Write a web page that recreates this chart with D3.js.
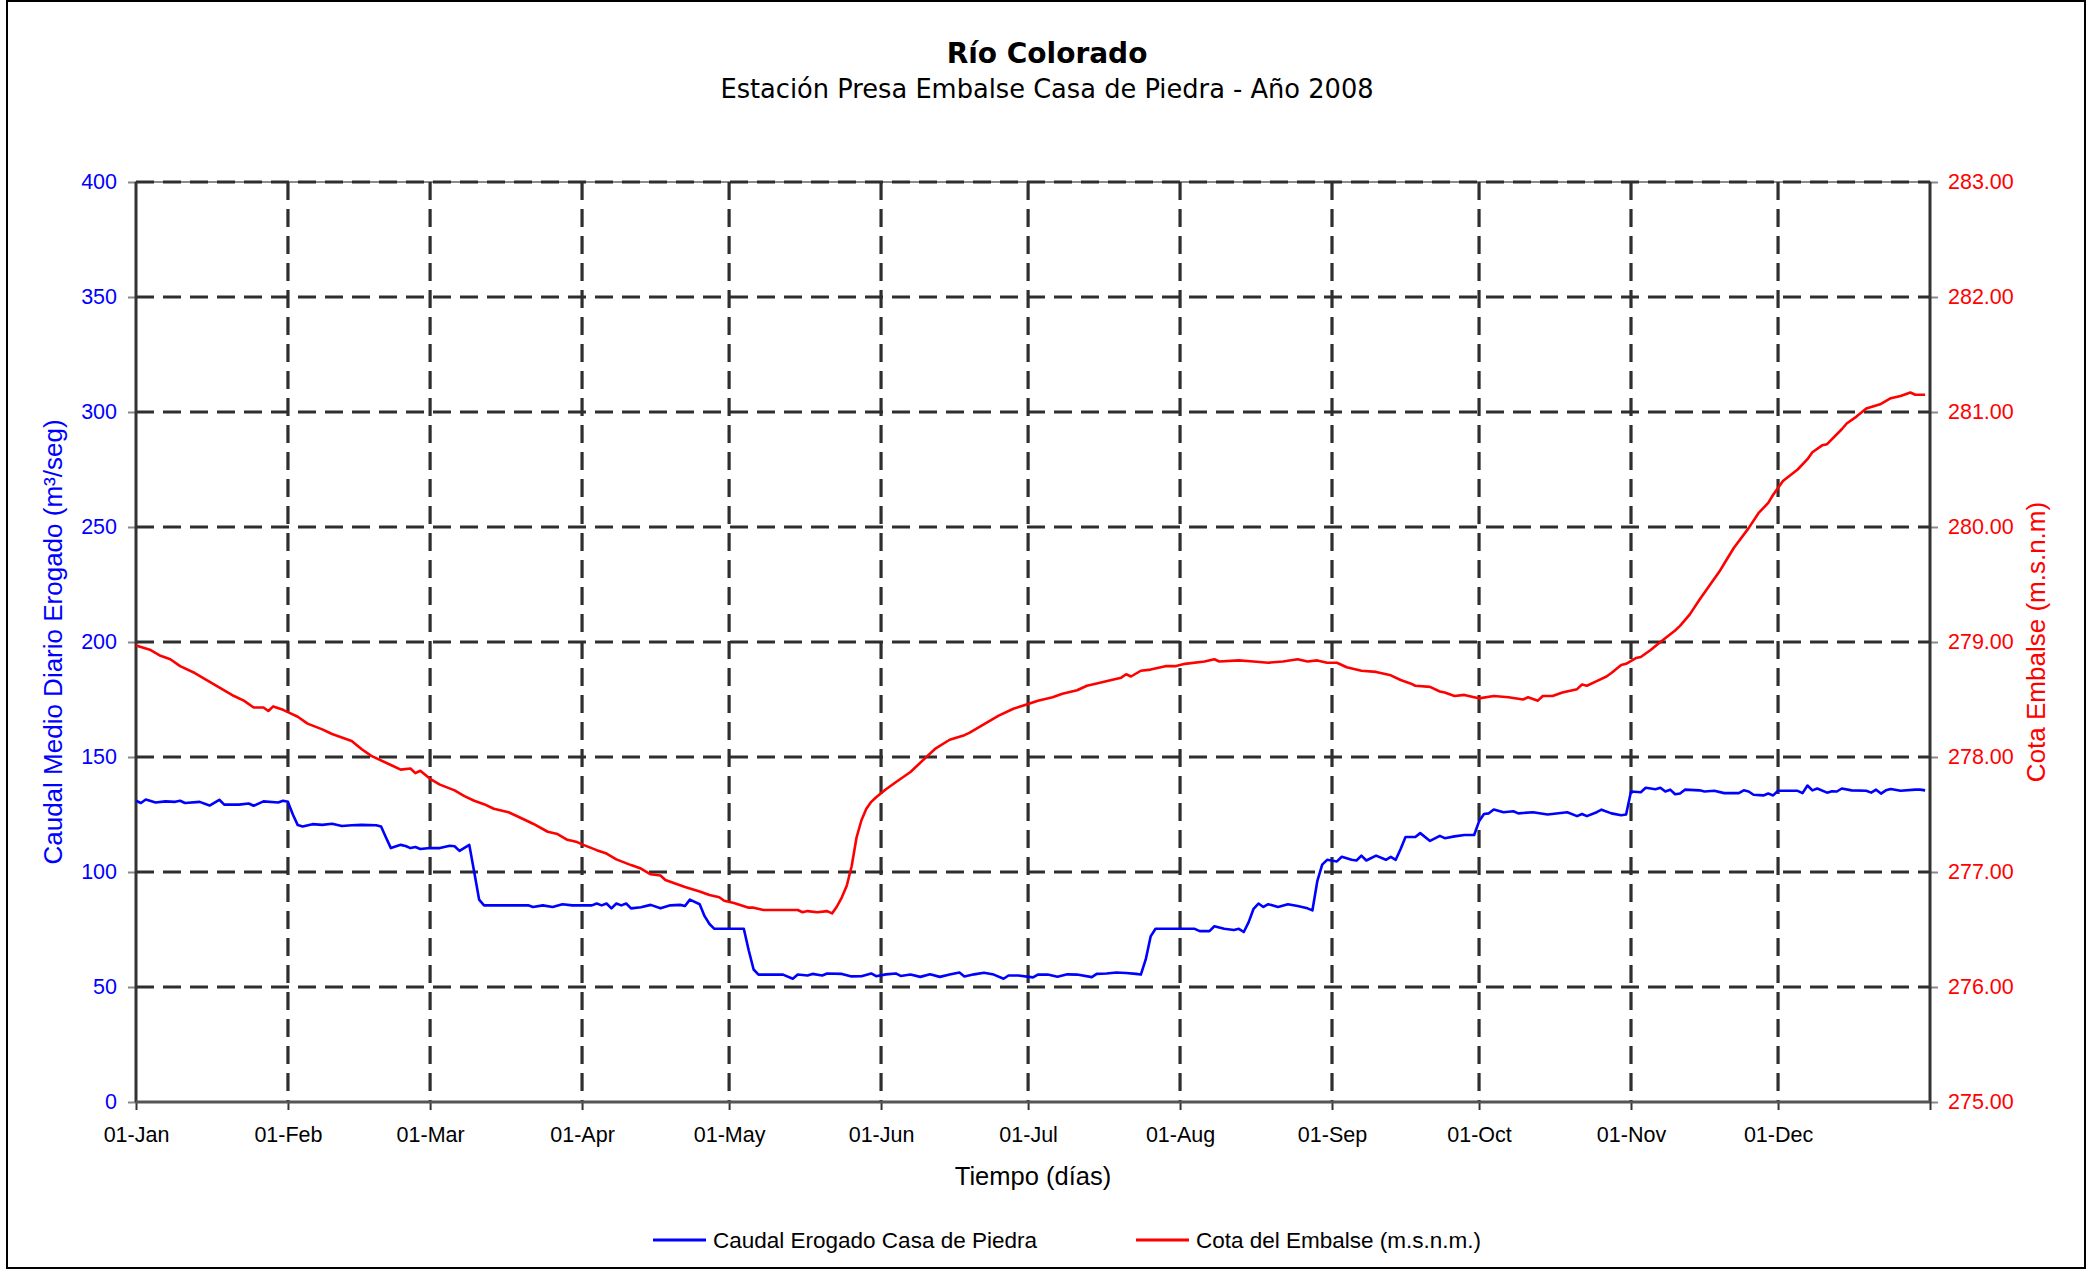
<!DOCTYPE html>
<html>
<head>
<meta charset="utf-8">
<script src="https://cdn.jsdelivr.net/npm/d3@7"></script>
<style>
  html, body { margin: 0; padding: 0; background: #fff; }
  svg { display: block; }
</style>
</head>
<body>
<svg id="chart" width="2089" height="1271"></svg>
<script>
// ---------------- DATA ----------------
const chartTitle = "Río Colorado";
const chartSubtitle = "Estación Presa Embalse Casa de Piedra - Año 2008";
const yLeftTitle = "Caudal Medio Diario Erogado (m³/seg)";
const yRightTitle = "Cota Embalse (m.s.n.m)";
const xTitle = "Tiempo (días)";
const seriesNames = ["Caudal Erogado Casa de Piedra", "Cota del Embalse (m.s.n.m.)"];
const yearStart = [2008, 0, 1];
const leftTicks = [0, 50, 100, 150, 200, 250, 300, 350, 400];
const rightTicks = [275, 276, 277, 278, 279, 280, 281, 282, 283];
const monthStarts = [0, 1, 2, 3, 4, 5, 6, 7, 8, 9, 10, 11];

// [day of year (0 = 01-Jan), caudal m3/s]
const caudal = [
 [0,131],[1,130],[2,131.5],[4,130.2],[6,130.7],[8,130.5],[9,131],[10,130],[13,130.5],[15,128.9],
 [17,131.4],[18,129.3],[21,129.3],[23,129.8],[24,128.8],[26,130.7],[29,130.2],[30,131],[31,130.5],
 [32,125],[33,120.4],[34,119.8],[36,120.8],[38,120.5],[40,121],[42,120],[44,120.3],[46,120.5],
 [49,120.3],[50,119.8],[51,115],[52,110.4],[54,111.8],[55,111.3],[56,110.4],[57,110.9],[58,110],
 [60,110.4],[62,110.4],[64,111.4],[65,111.2],[66,109.2],[68,111.8],[69,100],[70,88],[71,85.5],
 [74,85.5],[77,85.5],[80,85.5],[81,84.8],[83,85.5],[85,84.8],[87,86],[89,85.5],[91,85.5],[93,85.5],
 [94,86.3],[95,85.5],[96,86.3],[97,84.2],[98,86.3],[99,85.5],[100,86.3],[101,84.2],[103,84.7],
 [105,85.7],[107,84.2],[109,85.5],[111,85.7],[112,85.2],[113,88],[115,86],[116,80.8],[117,77.4],
 [118,75.3],[121,75.3],[124,75.3],[125,66],[126,57.6],[127,55.4],[130,55.4],[132,55.4],[134,53.6],
 [135,55.4],[137,55],[138,55.7],[140,55],[141,55.9],[144,55.7],[146,54.6],[148,54.7],[150,55.9],
 [151,54.7],[153,55.5],[155,55.9],[156,54.8],[158,55.4],[160,54.4],[162,55.5],[164,54.4],[166,55.4],
 [168,56.3],[169,54.6],[171,55.5],[173,56.2],[175,55.4],[177,53.6],[178,55],[180,55],[183,54.2],
 [184,55.4],[186,55.4],[188,54.5],[190,55.5],[192,55.4],[195,54.3],[196,55.7],[198,55.9],[200,56.3],
 [202,56.1],[204,55.7],[205,55.4],[206,62],[207,72],[208,75.3],[211,75.3],[214,75.3],[216,75.3],
 [217,74.3],[219,74.3],[220,76.4],[222,75.3],[224,74.8],[225,75.3],[226,73.9],[227,78.2],[228,84],
 [229,86.3],[230,84.8],[231,86],[233,84.8],[235,86],[237,85.2],[239,84.2],[240,83.3],[241,96],
 [242,103.2],[243,105.3],[245,104.6],[246,106.6],[248,105.3],[249,105],[250,107.1],[251,105],
 [253,107.1],[255,105.3],[256,106.6],[257,105.3],[258,110],[259,115.2],[261,115.2],[262,116.9],
 [264,113.5],[266,115.7],[267,114.7],[269,115.5],[271,116.1],[273,116.1],[274,122],[275,125.2],
 [276,125.5],[277,127.2],[279,126],[281,126.4],[282,125.5],[285,126],[288,125],[292,126],[294,124.3],
 [295,125.2],[296,124.3],[298,126],[299,127.1],[301,125.5],[303,124.7],[304,125],[305,135],
 [307,134.7],[308,136.6],[310,136],[311,136.6],[312,135],[313,135.8],[314,133.8],[315,134.1],
 [316,135.8],[319,135.5],[320,135],[322,135.3],[324,134.3],[327,134.3],[328,135.5],[329,135],
 [330,133.6],[332,133.3],[333,134.1],[334,133.3],[335,135.3],[339,135.3],[340,134.3],[341,137.6],
 [342,135.5],[343,136.3],[345,134.5],[346,135.1],[347,135],[348,136.3],[350,135.5],[353,135.3],
 [354,134.5],[355,135.8],[356,134.1],[357,135.5],[358,136.1],[360,135.3],[363,135.8],[364,135.8],
 [365,135.5]
];

// [day of year, cota m.s.n.m.]
const cota = [
 [0,278.97],[3,278.93],[5,278.88],[7,278.85],[9,278.79],[12,278.73],[14,278.68],[16,278.63],
 [18,278.58],[20,278.53],[22,278.49],[24,278.43],[26,278.43],[27,278.40],[28,278.44],[30,278.41],
 [31,278.39],[33,278.35],[35,278.29],[38,278.24],[40,278.20],[44,278.14],[46,278.07],[48,278.01],
 [52,277.93],[54,277.89],[56,277.90],[57,277.86],[58,277.88],[60,277.81],[62,277.76],[65,277.71],
 [67,277.66],[69,277.62],[71,277.59],[73,277.55],[76,277.52],[78,277.48],[81,277.42],[84,277.35],
 [86,277.33],[88,277.28],[90,277.26],[91,277.24],[94,277.19],[96,277.16],[98,277.11],[101,277.06],
 [103,277.03],[105,276.98],[107,276.97],[108,276.93],[110,276.90],[112,276.87],[115,276.83],
 [117,276.80],[119,276.78],[120,276.75],[122,276.73],[125,276.69],[126,276.69],[128,276.67],
 [135,276.67],[136,276.65],[137,276.66],[139,276.65],[141,276.66],[142,276.64],[143,276.70],
 [144,276.78],[145,276.88],[146,277.05],[147,277.30],[148,277.45],[149,277.55],[150,277.61],
 [151,277.65],[153,277.72],[155,277.78],[158,277.87],[161,277.99],[163,278.07],[166,278.15],
 [169,278.19],[170,278.21],[172,278.26],[174,278.31],[176,278.36],[179,278.42],[182,278.46],
 [184,278.49],[187,278.52],[189,278.55],[192,278.58],[194,278.62],[196,278.64],[199,278.67],
 [201,278.69],[202,278.72],[203,278.70],[205,278.75],[207,278.76],[210,278.79],[212,278.79],
 [214,278.81],[218,278.83],[220,278.85],[221,278.83],[225,278.84],[228,278.83],[231,278.82],
 [234,278.83],[237,278.85],[239,278.83],[241,278.84],[243,278.82],[245,278.82],[247,278.78],
 [250,278.75],[253,278.74],[256,278.71],[258,278.67],[260,278.64],[261,278.62],[264,278.61],
 [266,278.57],[267,278.56],[269,278.53],[271,278.54],[273,278.52],[274,278.51],[277,278.53],
 [280,278.52],[283,278.50],[284,278.52],[286,278.49],[287,278.53],[289,278.53],[291,278.56],
 [294,278.59],[295,278.63],[296,278.62],[298,278.66],[300,278.70],[301,278.73],[303,278.80],
 [304,278.81],[306,278.86],[307,278.87],[309,278.93],[311,279.00],[314,279.10],[315,279.14],
 [317,279.24],[319,279.37],[323,279.61],[324,279.68],[326,279.82],[329,279.99],[331,280.12],
 [333,280.21],[334,280.28],[336,280.40],[339,280.50],[341,280.59],[342,280.65],[344,280.71],
 [345,280.72],[348,280.85],[349,280.90],[351,280.96],[353,281.03],[356,281.07],[358,281.12],
 [360,281.14],[362,281.17],[363,281.15],[365,281.15]
];

// ---------------- CHART ----------------
const svg = d3.select("#chart");
const W = 2089, H = 1271;
const plot = { left: 136, right: 1930, top: 182, bottom: 1102 };
const t0 = new Date(yearStart[0], yearStart[1], yearStart[2]);
const dayToDate = d => d3.timeDay.offset(t0, d);

const x = d3.scaleTime().domain([t0, new Date(yearStart[0] + 1, 0, 1)]).range([plot.left, plot.right]);
const yL = d3.scaleLinear().domain([0, 400]).range([plot.bottom, plot.top]);
const yR = d3.scaleLinear().domain([275, 283]).range([plot.bottom, plot.top]);
const months = monthStarts.map(m => new Date(yearStart[0], m, 1));

const sans = "'Liberation Sans', Arial, sans-serif";
const titleFont = "'DejaVu Sans', 'Noto Sans', sans-serif";

svg.append("rect").attr("width", W).attr("height", H).attr("fill", "#fff");
svg.append("rect").attr("x", 7).attr("y", 1).attr("width", 2078).attr("height", 1267)
  .attr("fill", "none").attr("stroke", "#000").attr("stroke-width", 2);

// Titles
svg.append("text").attr("x", 1047).attr("y", 63).attr("text-anchor", "middle")
  .attr("font-family", titleFont).attr("font-weight", "bold").attr("font-size", 28)
  .attr("fill", "#000").text(chartTitle);
svg.append("text").attr("x", 1047).attr("y", 98).attr("text-anchor", "middle")
  .attr("font-family", titleFont).attr("font-size", 25.7)
  .attr("fill", "#000").text(chartSubtitle);

// Plot border (gray)
svg.append("rect").attr("x", plot.left).attr("y", plot.top)
  .attr("width", plot.right - plot.left).attr("height", plot.bottom - plot.top)
  .attr("fill", "none").attr("stroke", "#8c8c8c").attr("stroke-width", 2);

// Grid
const grid = svg.append("g").attr("stroke", "#2e2e2e").attr("stroke-width", 3.2).attr("stroke-dasharray", "18,9");
grid.selectAll("line.h").data(leftTicks.filter(v => v > 0)).join("line")
  .attr("x1", plot.left).attr("x2", plot.right)
  .attr("y1", d => yL(d)).attr("y2", d => yL(d));
grid.selectAll("line.v").data(months.slice(1)).join("line")
  .attr("x1", d => x(d)).attr("x2", d => x(d))
  .attr("y1", plot.top).attr("y2", plot.bottom);

// Axes
const axL = svg.append("g").attr("transform", `translate(${plot.left},0)`)
  .call(d3.axisLeft(yL).tickValues(leftTicks).tickSize(8).tickPadding(11).tickFormat(d3.format("d")));
axL.select(".domain").remove();
axL.selectAll("line").attr("stroke", "#888").attr("stroke-width", 2);
axL.selectAll("text").attr("fill", "#0000ff").attr("font-family", sans).attr("font-size", 21.5);

const axR = svg.append("g").attr("transform", `translate(${plot.right},0)`)
  .call(d3.axisRight(yR).tickValues(rightTicks).tickSize(8).tickPadding(10).tickFormat(d3.format(".2f")));
axR.select(".domain").remove();
axR.selectAll("line").attr("stroke", "#888").attr("stroke-width", 2);
axR.selectAll("text").attr("fill", "#ff0000").attr("font-family", sans).attr("font-size", 21.5);

const axB = svg.append("g").attr("transform", `translate(0,${plot.bottom})`)
  .call(d3.axisBottom(x).tickValues(months.concat([x.domain()[1]])).tickSize(8).tickPadding(17)
    .tickFormat(d => d.getFullYear() > yearStart[0] ? "" : d3.timeFormat("%d-%b")(d)));
axB.select(".domain").remove();
axB.selectAll("line").attr("stroke", "#333").attr("stroke-width", 2);
axB.selectAll("text").attr("fill", "#000").attr("font-family", sans).attr("font-size", 21.5);

// Axis lines
const axisLines = svg.append("g").attr("stroke", "#333").attr("stroke-width", 3);
axisLines.append("line").attr("x1", plot.left).attr("x2", plot.left).attr("y1", plot.top).attr("y2", plot.bottom);
axisLines.append("line").attr("x1", plot.right).attr("x2", plot.right).attr("y1", plot.top).attr("y2", plot.bottom);
axisLines.append("line").attr("x1", plot.left).attr("x2", plot.right).attr("y1", plot.bottom).attr("y2", plot.bottom).attr("stroke", "#555");

// Series
const lineQ = d3.line().x(d => x(dayToDate(d[0]))).y(d => yL(d[1]));
const lineH = d3.line().x(d => x(dayToDate(d[0]))).y(d => yR(d[1]));
svg.append("path").datum(caudal).attr("d", lineQ).attr("fill", "none")
  .attr("stroke", "#0000ff").attr("stroke-width", 2.6).attr("stroke-linejoin", "round");
svg.append("path").datum(cota).attr("d", lineH).attr("fill", "none")
  .attr("stroke", "#ff0000").attr("stroke-width", 2.6).attr("stroke-linejoin", "round");

// Axis titles
svg.append("text").attr("transform", `translate(62,${(plot.top + plot.bottom) / 2}) rotate(-90)`)
  .attr("text-anchor", "middle").attr("font-family", sans).attr("font-size", 26)
  .attr("fill", "#0000ff").text(yLeftTitle);
svg.append("text").attr("transform", `translate(2045,${(plot.top + plot.bottom) / 2}) rotate(-90)`)
  .attr("text-anchor", "middle").attr("font-family", sans).attr("font-size", 26)
  .attr("fill", "#ff0000").text(yRightTitle);
svg.append("text").attr("x", (plot.left + plot.right) / 2).attr("y", 1185)
  .attr("text-anchor", "middle").attr("font-family", sans).attr("font-size", 25.5)
  .attr("fill", "#000").text(xTitle);

// Legend
const legend = [
  { name: seriesNames[0], color: "#0000ff", x: 653 },
  { name: seriesNames[1], color: "#ff0000", x: 1136 }
];
const lg = svg.append("g");
legend.forEach(l => {
  lg.append("line").attr("x1", l.x).attr("x2", l.x + 53).attr("y1", 1240).attr("y2", 1240)
    .attr("stroke", l.color).attr("stroke-width", 3);
  lg.append("text").attr("x", l.x + 60).attr("y", 1248).attr("font-family", sans)
    .attr("font-size", 22.5).attr("fill", "#000").text(l.name);
});
</script>
</body>
</html>
